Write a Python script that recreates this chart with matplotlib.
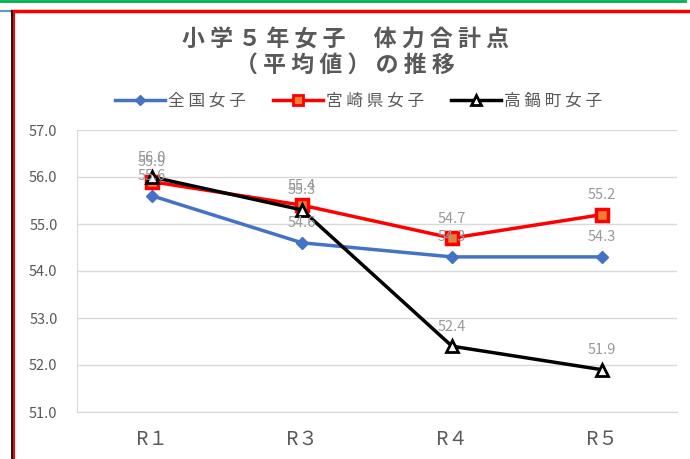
import matplotlib.pyplot as plt
from matplotlib.lines import Line2D

plt.rcParams['font.family'] = ['Noto Sans CJK JP', 'DejaVu Sans']

# 年度と各系列の平均値
years = ['R１', 'R３', 'R４', 'R５']
zenkoku = [55.6, 54.6, 54.3, 54.3]
miyazaki = [55.9, 55.4, 54.7, 55.2]
takanabe = [56.0, 55.3, 52.4, 51.9]
series_names = ['全国女子', '宮崎県女子', '高鍋町女子']


def spaced(s):
    # 文字間を少し空ける
    return ' '.join(s)


fig = plt.figure(figsize=(6.9, 4.59), dpi=100)
ax = fig.add_axes([77 / 690, 1 - 412 / 459, 600 / 690, 282 / 459])

x = list(range(len(years)))
ax.plot(x, zenkoku, color='#4472c4', lw=2.5, marker='D', ms=6,
        mfc='#4472c4', mec='#4472c4', zorder=3)
ax.plot(x, miyazaki, color='#ff0000', lw=2.5, marker='s', ms=8,
        mfc='#ed7d31', mec='#ff0000', mew=2.5, zorder=4)
ax.plot(x, takanabe, color='#000000', lw=2.5, marker='^', ms=8,
        mfc='white', mec='#000000', mew=2, zorder=5)

for vals in (zenkoku, miyazaki, takanabe):
    for xi, v in zip(x, vals):
        ax.annotate(f'{v:.1f}', (xi, v), xytext=(0, 9), textcoords='offset points',
                    ha='center', va='bottom', fontsize=10.5, color='#999999', zorder=6)

ax.set_xlim(-0.5, 3.5)
ax.set_ylim(51.0, 57.0)
ax.set_yticks([51, 52, 53, 54, 55, 56, 57])
ax.set_yticklabels([f'{v:.1f}' for v in [51, 52, 53, 54, 55, 56, 57]])
ax.set_xticks(x)
ax.set_xticklabels(years, fontsize=14)
ax.tick_params(axis='y', labelsize=10.5, colors='#595959', length=0, pad=14)
ax.tick_params(axis='x', colors='#595959', length=0, pad=12)
ax.grid(axis='y', color='#d9d9d9', lw=1)
ax.set_axisbelow(True)
for side in ('top', 'right'):
    ax.spines[side].set_visible(False)
ax.spines['left'].set_color('#d9d9d9')
ax.spines['bottom'].set_color('#d9d9d9')

fig.text(0.5, 1 - 40 / 459, spaced('小学５年女子') + '　 ' + spaced('体力合計点'),
         ha='center', va='center', fontsize=16.5, fontweight='bold', color='#595959')
fig.text(0.5, 1 - 66 / 459, spaced('（平均値）の推移'), ha='center', va='center',
         fontsize=16.5, fontweight='bold', color='#595959')

handles = [
    Line2D([], [], color='#4472c4', lw=2.5, marker='D', ms=5, mfc='#4472c4'),
    Line2D([], [], color='#ff0000', lw=2.5, marker='s', ms=7, mfc='#ed7d31', mec='#ff0000', mew=2),
    Line2D([], [], color='#000000', lw=2.5, marker='^', ms=7, mfc='white', mew=2),
]
fig.legend(handles, [spaced(n) for n in series_names], loc='center',
           bbox_to_anchor=(0.52, 1 - 101 / 459), ncol=3, frameon=False,
           fontsize=12, labelcolor='#595959', handlelength=3,
           columnspacing=1.6, handletextpad=0.2)

# 枠線
fig.add_artist(Line2D([0, 685 / 690], [1 - 1 / 459] * 2, color='#00b050', lw=2))
fig.add_artist(Line2D([0, 12 / 690], [1 - 11 / 459] * 2, color='#5b9bd5', lw=1.5))
fig.add_artist(Line2D([12 / 690, 1], [1 - 11 / 459] * 2, color='#ff0000', lw=2.5))
fig.add_artist(Line2D([12 / 690] * 2, [0, 1 - 11 / 459], color='#000000', lw=2))
fig.add_artist(Line2D([14 / 690] * 2, [0, 1 - 11 / 459], color='#ff0000', lw=1.5))

fig.savefig('out.png', dpi=100)
